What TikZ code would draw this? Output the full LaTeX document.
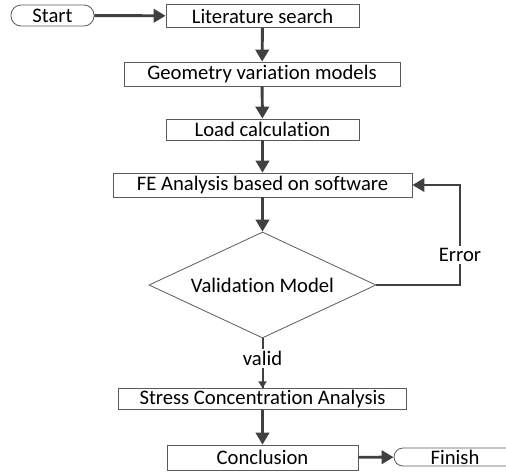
\documentclass[tikz,border=0pt]{standalone}
\usepackage{fontspec}
\setmainfont{Carlito}[Ligatures=NoCommon]
\usepackage{tikz}
\usetikzlibrary{shapes.geometric,arrows.meta}
\definecolor{linegray}{RGB}{64,64,64}
\definecolor{boxgray}{RGB}{90,90,90}
\tikzset{every picture/.style={line width=0.75pt}}
\tikzset{
	stepbox/.style={draw=boxgray,line width=0.6pt,inner sep=0pt,font=\fontsize{15.5}{17}\selectfont},
	termbox/.style={stepbox,rounded corners=7.5pt},
	decbox/.style={draw=boxgray,line width=0.6pt,shape=diamond,shape aspect=2.14,inner sep=0pt,font=\fontsize{15.5}{17}\selectfont},
	flow/.style={draw=linegray,line width=2.2pt,-{Triangle[length=9pt,width=10pt]}},
	flowsmall/.style={draw=linegray,line width=1.2pt,-{Triangle[length=5pt,width=6pt]}},
	lbl/.style={fill=white,inner sep=1.5pt,font=\fontsize{15.5}{17}\selectfont}
}

\begin{document}
\begin{tikzpicture}[x=0.75pt,y=0.75pt,yscale=-1,xscale=1]
		\useasboundingbox (0,0) rectangle (506,472);
		\clip (0,0) rectangle (506,472);
		
		%Shape: Terminal [id:start]
		\node [termbox,minimum width=62.25pt,minimum height=15.75pt] (start) at (52.5,15.5) {Start};
		%Shape: Rectangle [id:lit]
		\node [stepbox,minimum width=144.75pt,minimum height=17.25pt] (lit) at (262.5,16) {Literature search};
		%Shape: Rectangle [id:geo]
		\node [stepbox,minimum width=207pt,minimum height=18pt] (geo) at (262,74) {Geometry variation models};
		%Shape: Rectangle [id:load]
		\node [stepbox,minimum width=144.75pt,minimum height=15.75pt] (load) at (262.5,129.5) {Load calculation};
		%Shape: Rectangle [id:fe]
		\node [stepbox,minimum width=224.25pt,minimum height=18pt] (fe) at (262.5,185) {FE Analysis based on software};
		%Shape: Diamond [id:valid]
		\node [decbox,minimum width=170.25pt,minimum height=79.5pt] (valid) at (262.5,285) {Validation Model};
		%Shape: Rectangle [id:stress]
		\node [stepbox,minimum width=216pt,minimum height=15.75pt] (stress) at (262.5,399) {Stress Concentration Analysis};
		%Shape: Rectangle [id:concl]
		\node [stepbox,minimum width=143.25pt,minimum height=18.75pt] (concl) at (262.5,457.5) {Conclusion};
		%Shape: Terminal [id:finish]
		\node [termbox,rounded corners=6.75pt,minimum width=97.5pt,minimum height=13.5pt] (finish) at (459,457) {\hspace*{-6pt}Finish};
		
		%Corner for the loop back
		\coordinate (errbot) at (460,285);
		\coordinate (errtop) at (460,185);
		
		%Straight Lines
		\draw [flow] (start) -- (lit);
		\draw [flow] (lit) -- (geo);
		\draw [flow] (geo) -- (load);
		\draw [flow] (load) -- (fe);
		\draw [flow] (fe) -- (valid);
		\draw [flow] (valid.east) -- (errbot) -- node [lbl,pos=0.3] {Error} (errtop) -- (fe.east);
		\draw [draw=linegray,line width=1.5pt] (valid.south) -- node [lbl,pos=0.4] (validlbl) {valid} (valid.south |- stress.north);
		\draw [flowsmall] (validlbl.south) -- (stress.north);
		\draw [flow] (stress) -- (concl);
		\draw [flow] (concl) -- (finish);
		
\end{tikzpicture}
\end{document}
